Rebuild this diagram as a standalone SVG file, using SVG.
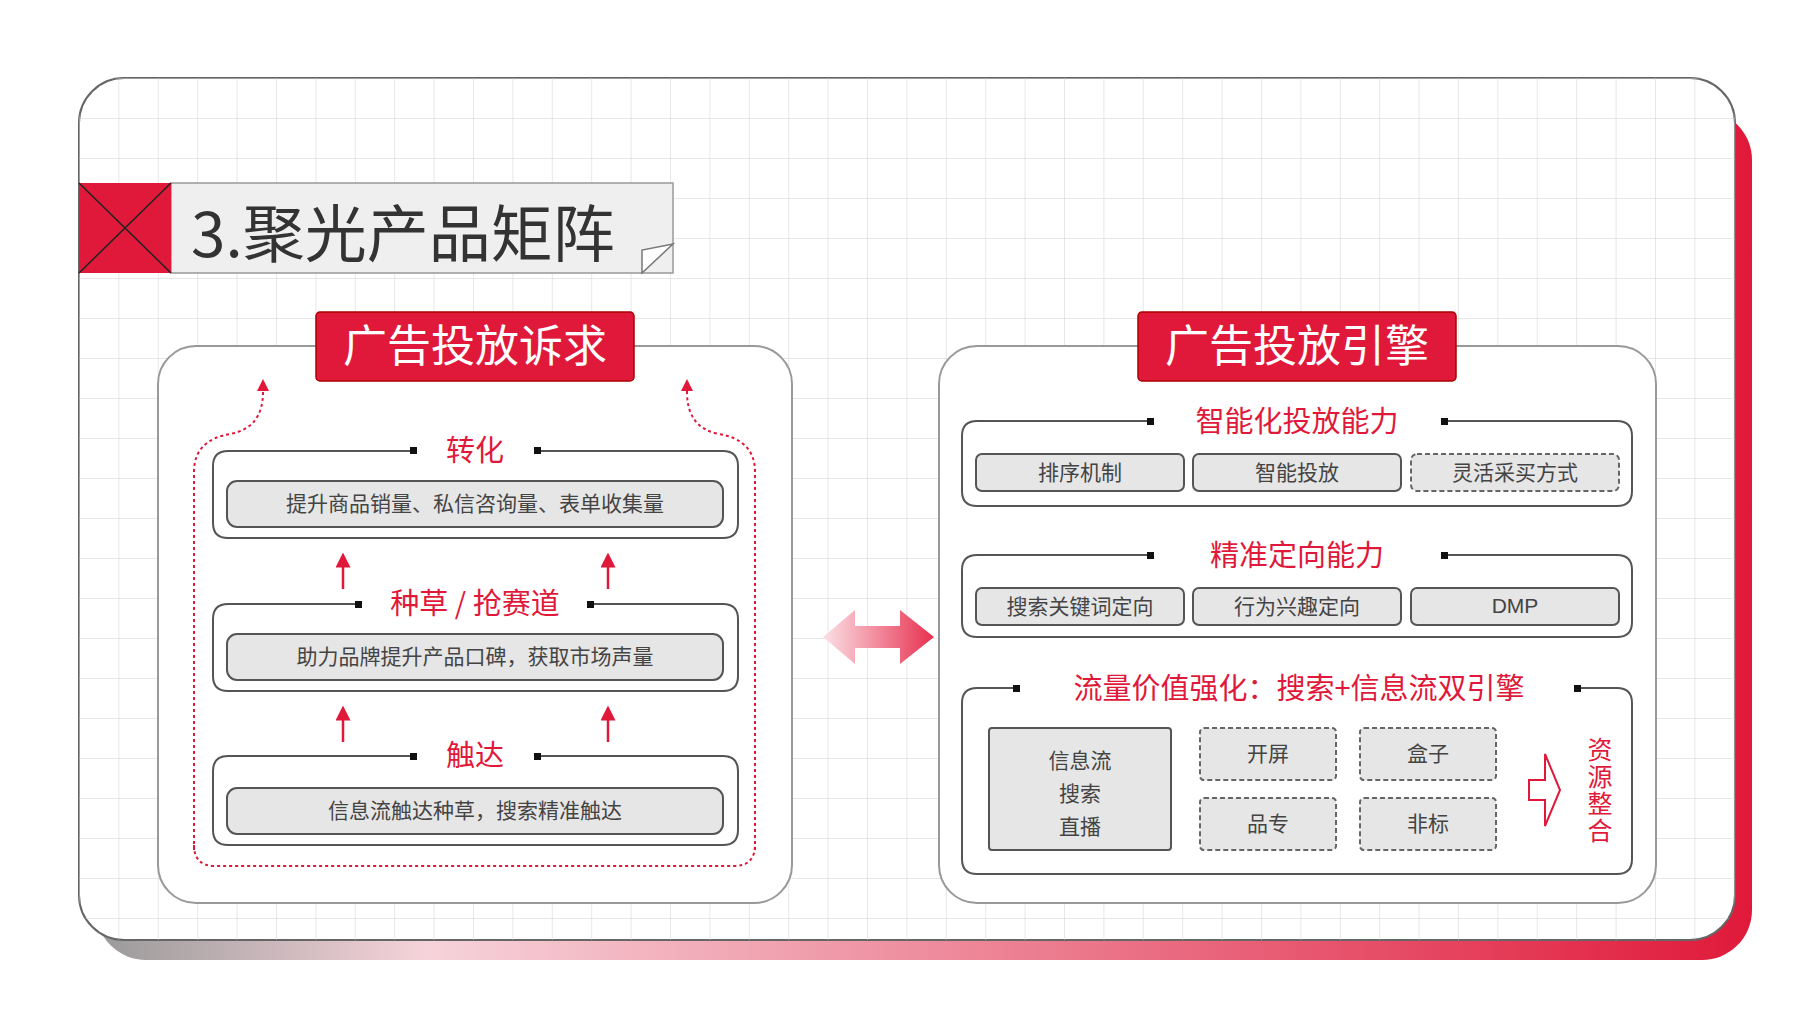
<svg xmlns="http://www.w3.org/2000/svg" width="1814" height="1020" viewBox="0 0 1814 1020">
<defs>
<pattern id="grid" x="79" y="78" width="39.4" height="40" patternUnits="userSpaceOnUse"><path d="M0 0H39.4M0 0V40" stroke="#cfcfcf" stroke-width="1" fill="none"/></pattern>
<linearGradient id="shad" x1="0" x2="1" y1="0" y2="0"><stop offset="0" stop-color="#999"/><stop offset="0.2" stop-color="#f6d3da"/><stop offset="1" stop-color="#e0193a"/></linearGradient>
<linearGradient id="dbl" x1="0" x2="1"><stop offset="0" stop-color="#fbe1e6"/><stop offset="1" stop-color="#e8304f"/></linearGradient>
<marker id="ah" viewBox="0 0 10 10" refX="5" refY="5" markerWidth="6" markerHeight="6" orient="auto"><path d="M0 0L10 5L0 10z" fill="#e0193a"/></marker>
<style>
.cn{font-family:"Noto Sans CJK SC","Liberation Sans",sans-serif}
.red{fill:#e0193a}
.gbox{fill:#e6e6e6;stroke:#555;stroke-width:2}
.dbox{fill:#e6e6e6;stroke:#666;stroke-width:2;stroke-dasharray:5 3}
.t{font-size:29px;fill:#e0193a;text-anchor:middle}
.g{font-size:21px;fill:#444;text-anchor:middle}
.ln{stroke:#555;stroke-width:2;fill:none}
.up{stroke:#e0193a;stroke-width:2.5;fill:none}
</style>
</defs>
<rect width="1814" height="1020" fill="#fff"/>
<rect x="96" y="110" width="1656" height="850" rx="50" fill="url(#shad)"/>
<rect x="79" y="78" width="1656" height="862" rx="45" fill="#fff" stroke="#666" stroke-width="2"/>
<rect x="79" y="78" width="1656" height="862" rx="45" fill="url(#grid)"/>
<g id="title">
<rect x="171" y="183" width="502" height="90" fill="#efefef" stroke="#999" stroke-width="1.5"/>
<rect x="79" y="183" width="92" height="90" fill="#e0193a"/>
<path d="M79 183L171 273M171 183L79 273" stroke="#222" stroke-width="1.5"/>
<path d="M673 244L642 273V250z" fill="#fff" stroke="#777" stroke-width="1.5"/>
<text x="191" y="257" class="cn" font-size="62" fill="#333">3.聚光产品矩阵</text>
</g>
<g id="left-panel">
<rect x="158" y="346" width="634" height="557" rx="38" fill="#fff" stroke="#999" stroke-width="2"/>
<rect x="316" y="312" width="318" height="69" rx="4" fill="#e0193a" stroke="#a00" stroke-width="1.5"/>
<text x="475" y="362" class="cn" font-size="44" fill="#fff" text-anchor="middle">广告投放诉求</text>
</g>
<g id="connectors">
<path d="M194 850V472Q194 440 230 434Q263 428 263 392V385" fill="none" stroke="#e0193a" stroke-width="2" stroke-dasharray="3 3" marker-end="url(#ah)"/>
<path d="M755 850V472Q755 440 719 434Q687 428 687 392V385" fill="none" stroke="#e0193a" stroke-width="2" stroke-dasharray="3 3" marker-end="url(#ah)"/>
<path d="M194 845Q194 866 215 866H734Q755 866 755 845" fill="none" stroke="#e0193a" stroke-width="2" stroke-dasharray="3 3"/>
<path d="M343 589V560" class="up" marker-end="url(#ah)"/>
<path d="M608 589V560" class="up" marker-end="url(#ah)"/>
<path d="M343 742V713" class="up" marker-end="url(#ah)"/>
<path d="M608 742V713" class="up" marker-end="url(#ah)"/>
<path d="M823 637L855 610V626H900V610L934 637L900 664V648H855V664z" fill="url(#dbl)"/>
</g>
<g id="tier-zhuanhua">
<path d="M414 451H228Q213 451 213 466V523Q213 538 228 538H723Q738 538 738 523V466Q738 451 723 451H537" class="ln"/>
<rect x="410" y="447" width="7" height="7" fill="#111"/><rect x="534" y="447" width="7" height="7" fill="#111"/>
<text x="475" y="461" class="cn t">转化</text>
<rect x="227" y="481" width="496" height="46" rx="10" class="gbox"/>
<text x="475" y="511" class="cn g">提升商品销量、私信咨询量、表单收集量</text>
</g>
<g id="tier-zhongcao">
<path d="M359 604H228Q213 604 213 619V676Q213 691 228 691H723Q738 691 738 676V619Q738 604 723 604H590" class="ln"/>
<rect x="355" y="601" width="7" height="7" fill="#111"/><rect x="587" y="601" width="7" height="7" fill="#111"/>
<text x="475" y="614" class="cn t">种草 / 抢赛道</text>
<rect x="227" y="634" width="496" height="46" rx="10" class="gbox"/>
<text x="475" y="664" class="cn g">助力品牌提升产品口碑，获取市场声量</text>
</g>
<g id="tier-chuda">
<path d="M414 756H228Q213 756 213 771V830Q213 845 228 845H723Q738 845 738 830V771Q738 756 723 756H537" class="ln"/>
<rect x="410" y="753" width="7" height="7" fill="#111"/><rect x="534" y="753" width="7" height="7" fill="#111"/>
<text x="475" y="766" class="cn t">触达</text>
<rect x="227" y="788" width="496" height="46" rx="10" class="gbox"/>
<text x="475" y="818" class="cn g">信息流触达种草，搜索精准触达</text>
</g>
<g id="right-panel">
<rect x="939" y="346" width="717" height="557" rx="38" fill="#fff" stroke="#999" stroke-width="2"/>
<rect x="1138" y="312" width="318" height="69" rx="4" fill="#e0193a" stroke="#a00" stroke-width="1.5"/>
<text x="1297" y="362" class="cn" font-size="44" fill="#fff" text-anchor="middle">广告投放引擎</text>
</g>
<g id="tier-zhineng">
<path d="M1151 421H977Q962 421 962 436V491Q962 506 977 506H1617Q1632 506 1632 491V436Q1632 421 1617 421H1444" class="ln"/>
<rect x="1147" y="418" width="7" height="7" fill="#111"/><rect x="1441" y="418" width="7" height="7" fill="#111"/>
<text x="1297" y="432" class="cn t">智能化投放能力</text>
<rect x="976" y="454" width="208" height="37" rx="6" class="gbox"/><text x="1080" y="480" class="cn g">排序机制</text>
<rect x="1193" y="454" width="208" height="37" rx="6" class="gbox"/><text x="1297" y="480" class="cn g">智能投放</text>
<rect x="1411" y="454" width="208" height="37" rx="6" class="dbox"/><text x="1515" y="480" class="cn g">灵活采买方式</text>
</g>
<g id="tier-jingzhun">
<path d="M1151 555H977Q962 555 962 570V622Q962 637 977 637H1617Q1632 637 1632 622V570Q1632 555 1617 555H1444" class="ln"/>
<rect x="1147" y="552" width="7" height="7" fill="#111"/><rect x="1441" y="552" width="7" height="7" fill="#111"/>
<text x="1297" y="566" class="cn t">精准定向能力</text>
<rect x="976" y="588" width="208" height="37" rx="6" class="gbox"/><text x="1080" y="614" class="cn g">搜索关键词定向</text>
<rect x="1193" y="588" width="208" height="37" rx="6" class="gbox"/><text x="1297" y="614" class="cn g">行为兴趣定向</text>
<rect x="1411" y="588" width="208" height="37" rx="6" class="gbox"/><text x="1515" y="613" class="g" font-family="Liberation Sans,sans-serif">DMP</text>
</g>
<g id="tier-liuliang">
<path d="M1017 688H977Q962 688 962 703V859Q962 874 977 874H1617Q1632 874 1632 859V703Q1632 688 1617 688H1577" class="ln"/>
<rect x="1013" y="685" width="7" height="7" fill="#111"/><rect x="1574" y="685" width="7" height="7" fill="#111"/>
<text x="1299" y="699" class="cn t">流量价值强化：搜索+信息流双引擎</text>
<rect x="989" y="728" width="182" height="122" rx="3" class="gbox"/>
<text x="1080" y="768" class="cn g">信息流</text><text x="1080" y="801" class="cn g">搜索</text><text x="1080" y="834" class="cn g">直播</text>
<rect x="1200" y="728" width="136" height="52" rx="4" class="dbox"/><text x="1268" y="761" class="cn g">开屏</text>
<rect x="1360" y="728" width="136" height="52" rx="4" class="dbox"/><text x="1428" y="761" class="cn g">盒子</text>
<rect x="1200" y="798" width="136" height="52" rx="4" class="dbox"/><text x="1268" y="831" class="cn g">品专</text>
<rect x="1360" y="798" width="136" height="52" rx="4" class="dbox"/><text x="1428" y="831" class="cn g">非标</text>
<path d="M1529 780H1545V754L1560 790L1545 826V800H1529z" fill="#fff" stroke="#e0193a" stroke-width="2"/>
<text class="cn red" font-size="25" text-anchor="middle"><tspan x="1600" y="759">资</tspan><tspan x="1600" y="786">源</tspan><tspan x="1600" y="813">整</tspan><tspan x="1600" y="840">合</tspan></text>
</g>
</svg>
